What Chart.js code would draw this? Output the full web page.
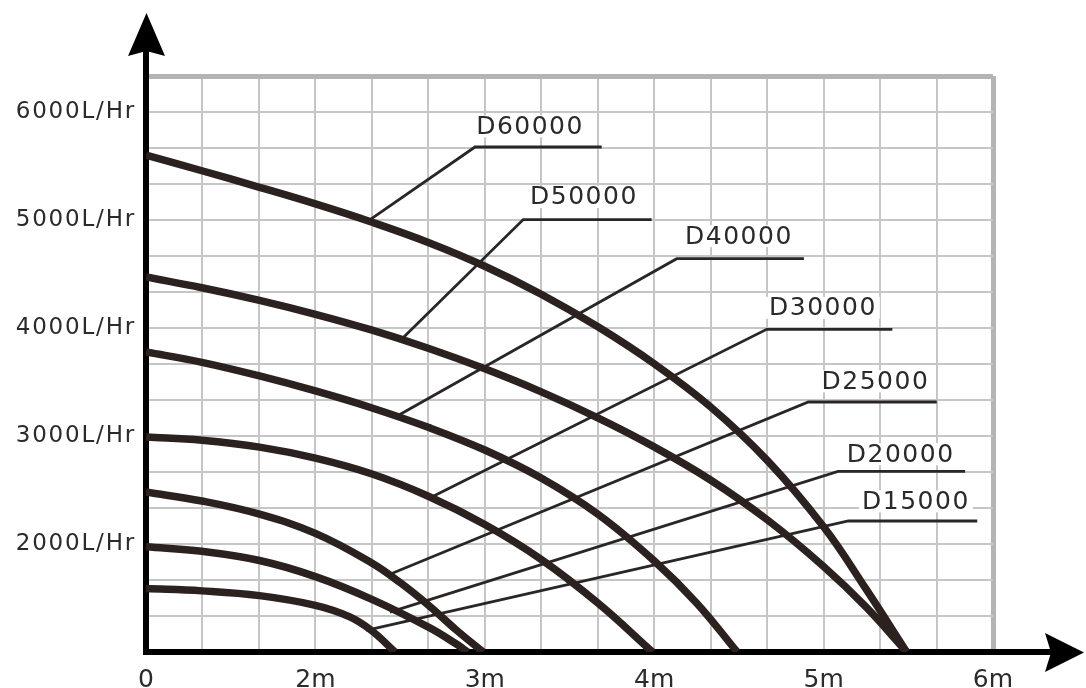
<!DOCTYPE html>
<html>
<head>
<meta charset="utf-8">
<title>Pump curves</title>
<script src="https://cdn.jsdelivr.net/npm/chart.js@4.4.1/dist/chart.umd.min.js"></script>
<style>
  html, body { margin: 0; padding: 0; background: #fff; }
  #wrap { width: 1086px; height: 688px; }
</style>
</head>
<body>
<div id="wrap"><canvas id="curveChart" width="1086" height="688"></canvas></div>
<script>
// axis labels as printed (the "0" label sits at x = 1)
const xTickLabels = ["0", "2m", "3m", "4m", "5m", "6m"];
const xTickValues = [1, 2, 3, 4, 5, 6];
const yTickLabels = ["2000L/Hr", "3000L/Hr", "4000L/Hr", "5000L/Hr", "6000L/Hr"];
const yTickValues = [2000, 3000, 4000, 5000, 6000];

const models = ["D60000", "D50000", "D40000", "D30000", "D25000", "D20000", "D15000"];

// [head, flow L/Hr]
const d60000 = [[1, 5600], [1.33, 5456], [1.67, 5303], [2, 5149], [2.33, 4982], [2.67, 4790], [3, 4572], [3.33, 4315], [3.67, 4009], [4, 3669], [4.33, 3273], [4.67, 2770], [5, 2159], [5.25, 1584], [5.49, 1000]];
const d50000 = [[1, 4472], [1.33, 4373], [1.67, 4256], [2, 4127], [2.33, 3982], [2.67, 3810], [3, 3622], [3.33, 3411], [3.67, 3166], [4, 2899], [4.33, 2595], [4.67, 2221], [5, 1792], [5.25, 1417], [5.49, 1000]];
const d40000 = [[1, 3778], [1.33, 3682], [1.67, 3556], [2, 3417], [2.33, 3262], [2.67, 3078], [3, 2870], [3.33, 2613], [3.67, 2273], [4, 1844], [4.25, 1454], [4.49, 1000]];
const d30000 = [[1, 2990], [1.33, 2960], [1.67, 2897], [2, 2795], [2.33, 2650], [2.67, 2440], [3, 2180], [3.33, 1860], [3.67, 1450], [3.99, 1000]];
const d25000 = [[1, 2481], [1.33, 2398], [1.67, 2276], [2, 2098], [2.33, 1827], [2.5, 1643], [2.67, 1430], [2.83, 1206], [2.99, 1000]];
const d20000 = [[1, 1975], [1.33, 1932], [1.67, 1847], [2, 1698], [2.33, 1490], [2.67, 1228], [2.83, 1076], [2.9, 1000]];
const d15000 = [[1, 1587], [1.33, 1566], [1.67, 1522], [2, 1432], [2.2, 1327], [2.33, 1200], [2.47, 1000]];
const curves = [d60000, d50000, d40000, d30000, d25000, d20000, d15000];

// callout leaders: point on curve -> elbow -> end of underline
const leaderLines = [
  [[2.31, 4990], [2.942, 5676], [3.69, 5676]],
  [[2.519, 3911], [3.227, 5004], [3.985, 5004]],
  [[2.48, 3182], [4.133, 4642], [4.884, 4642]],
  [[2.666, 2420], [4.664, 3988], [5.406, 3988]],
  [[2.44, 1720], [4.91, 3315], [5.668, 3315]],
  [[2.44, 1370], [5.085, 2673], [5.835, 2673]],
  [[2.3, 1200], [5.146, 2213], [5.907, 2213]]
];
const labelCenters = [[3.267, 5867], [3.585, 5213], [4.5, 4851], [4.996, 4187], [5.306, 3506], [5.455, 2831], [5.545, 2395]];

const FONT = '"DejaVu Sans", sans-serif';
const yMin = 1000, yMax = 1000 + 16 * 1000 / 3;
const xGrid = [], yGrid = [];
for (let k = 0; k <= 15; k++) xGrid.push(1 + k / 3);
for (let k = 0; k <= 16; k++) yGrid.push(1000 + k * 1000 / 3);

const toPoints = (arr) => arr.map(p => ({ x: p[0], y: p[1] }));

const datasets = [];
curves.forEach((c, i) => {
  datasets.push({
    label: models[i],
    data: toPoints(c),
    borderColor: "#2b2220",
    borderWidth: 7.5,
    pointRadius: 0,
    tension: 0.4,
    fill: false
  });
});
leaderLines.forEach((l, i) => {
  datasets.push({
    label: models[i] + " leader",
    data: toPoints(l),
    borderColor: "#2b2626",
    borderWidth: 2.8,
    pointRadius: 0,
    tension: 0,
    fill: false
  });
});

const near = (a, b) => Math.abs(a - b) < 1e-6;

// labels of the curves + axis arrows
const decorPlugin = {
  id: "decor",
  beforeDraw(chart) {
    chart.ctx.letterSpacing = "1.8px"; // the y tick labels are set wide
  },
  afterDatasetsDraw(chart) {
    const { ctx } = chart;
    const x = chart.scales.x, y = chart.scales.y;
    ctx.letterSpacing = "0px";
    ctx.save();
    ctx.font = "25px " + FONT;
    ctx.letterSpacing = "1.5px";
    ctx.textAlign = "center";
    ctx.textBaseline = "middle";
    models.forEach((name, i) => {
      const px = x.getPixelForValue(labelCenters[i][0]);
      const py = y.getPixelForValue(labelCenters[i][1]);
      const w = ctx.measureText(name).width;
      ctx.fillStyle = "#fff";
      ctx.fillRect(px - w / 2 - 3, py - 11, w + 6, 22);
      ctx.fillStyle = "#2a2a2a";
      ctx.fillText(name, px, py + 1);
    });
    ctx.restore();
    ctx.letterSpacing = "0px";
  },
  afterDraw(chart) {
    const { ctx } = chart;
    const { left, top, right, bottom } = chart.chartArea;
    ctx.save();
    ctx.strokeStyle = "#000";
    ctx.fillStyle = "#000";
    ctx.lineWidth = 6;
    ctx.beginPath();
    ctx.moveTo(left, top + 2);
    ctx.lineTo(left, top - 30);
    ctx.moveTo(right - 2, bottom);
    ctx.lineTo(right + 58, bottom);
    ctx.stroke();
    // up arrow
    ctx.beginPath();
    ctx.moveTo(left + 0.5, top - 63);
    ctx.lineTo(left + 19, top - 20);
    ctx.lineTo(left + 0.5, top - 25);
    ctx.lineTo(left - 18, top - 20);
    ctx.closePath();
    ctx.fill();
    // right arrow
    ctx.beginPath();
    ctx.moveTo(right + 91, bottom + 0.5);
    ctx.lineTo(right + 52, bottom + 20);
    ctx.lineTo(right + 58, bottom + 0.5);
    ctx.lineTo(right + 52, bottom - 19);
    ctx.closePath();
    ctx.fill();
    ctx.restore();
  }
};

new Chart(document.getElementById("curveChart"), {
  type: "line",
  data: { datasets },
  options: {
    responsive: false,
    animation: false,
    devicePixelRatio: 1,
    layout: { padding: { top: 76, right: 93, bottom: 0, left: 0 } },
    plugins: {
      legend: { display: false },
      tooltip: { enabled: false }
    },
    scales: {
      x: {
        type: "linear",
        min: 1,
        max: 6,
        afterBuildTicks: (axis) => { axis.ticks = xGrid.map(v => ({ value: v })); },
        afterFit: (axis) => { axis.height = 36; },
        grid: {
          drawTicks: false,
          color: (c) => (c.index === xGrid.length - 1 ? "#b4b4b4" : "#c6c6c6"),
          lineWidth: (c) => (c.index === xGrid.length - 1 ? 5 : 2)
        },
        border: { display: true, color: "#000", width: 6 },
        ticks: {
          z: 1,
          autoSkip: false,
          maxRotation: 0,
          padding: 13,
          color: "#2b2b2b",
          font: { family: FONT, size: 25 },
          callback: (v) => {
            const i = xTickValues.findIndex(t => near(t, v));
            return i >= 0 ? xTickLabels[i] : "";
          }
        }
      },
      y: {
        type: "linear",
        min: yMin,
        max: yMax,
        afterBuildTicks: (axis) => { axis.ticks = yGrid.map(v => ({ value: v })); },
        afterFit: (axis) => { axis.width = 146; },
        grid: {
          drawTicks: false,
          color: (c) => (c.index === yGrid.length - 1 ? "#b4b4b4" : "#c6c6c6"),
          lineWidth: (c) => (c.index === yGrid.length - 1 ? 5 : 2)
        },
        border: { display: true, color: "#000", width: 6 },
        ticks: {
          autoSkip: false,
          padding: 10,
          color: "#2b2b2b",
          font: { family: FONT, size: 23 },
          callback: (v) => {
            const i = yTickValues.findIndex(t => near(t, v));
            return i >= 0 ? yTickLabels[i] : "";
          }
        }
      }
    }
  },
  plugins: [decorPlugin]
});
</script>
</body>
</html>
